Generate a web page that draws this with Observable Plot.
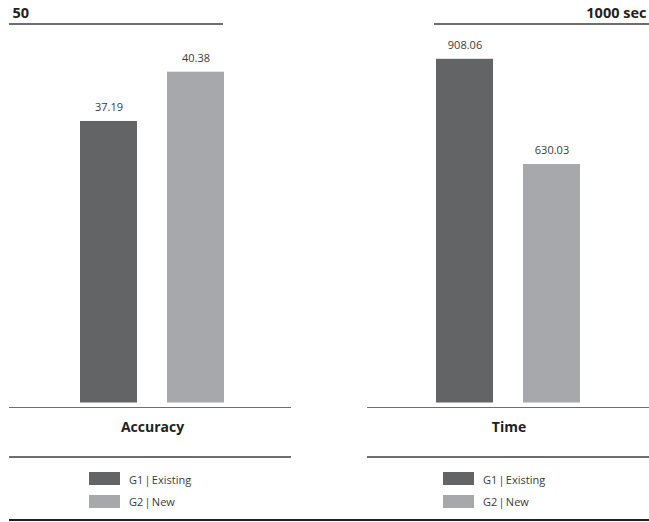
<!DOCTYPE html>
<html><head><meta charset="utf-8">
<script src="https://cdn.jsdelivr.net/npm/d3@7"></script>
<script src="https://cdn.jsdelivr.net/npm/@observablehq/plot@0.6"></script>
<style>
body{margin:0;background:#fff;}
#c{position:relative;width:649px;height:522px;font-family:"Open Sans",sans-serif;color:#231f20;overflow:hidden;}
#c svg{position:absolute;left:0;top:0;}
.ln{position:absolute;height:1.3px;background:#6d6e71;}
.ttl{position:absolute;width:200px;text-align:center;font-weight:bold;font-size:14px;line-height:14px;white-space:nowrap;}
.sw{position:absolute;width:31px;height:13px;}
.lt{position:absolute;font-size:11px;line-height:11px;white-space:nowrap;color:#3b3b3d;word-spacing:-1.6px;}
</style>
</head><body>
<div id="c"></div>
<script>
const series = ["G1 | Existing", "G2 | New"];
const colors = ["#636466", "#a7a8ab"];
const categories = ["Accuracy", "Time"];
const accuracyValues = [37.19, 43.7];
const accuracyLabels = ["37.19", "40.38"];
const timeValues = [908.06, 630.03];
const timeLabels = ["908.06", "630.03"];
const axisMax = [50, 1000];
const axisLabels = ["50", "1000 sec"];

const c = document.getElementById("c");

function panel(values, labels, xRange, yMax, axisLabel, anchorRight) {
  const data = series.map((s, i) => ({s, v: values[i], label: labels[i]}));
  return Plot.plot({
    width: 649, height: 410, margin: 0,
    style: {background: "transparent", fontFamily: "'Open Sans', sans-serif", overflow: "visible"},
    x: {domain: series, range: xRange, paddingInner: 0.34, paddingOuter: 0, axis: null},
    y: {domain: [0, yMax], range: [402.5, 24], axis: null},
    color: {domain: series, range: colors},
    marks: [
      Plot.barY(data, {x: "s", y: "v", fill: "s"}),
      Plot.text(data, {x: "s", y: "v", text: "label", dy: -14, fontSize: 11, fill: "#3b3b3d"}),
      Plot.text([yMax], {y: d => d, text: () => axisLabel, frameAnchor: anchorRight ? "right" : "left",
        textAnchor: anchorRight ? "end" : "start", dx: anchorRight ? -3 : 12, dy: -11,
        fontSize: 14.5, fontWeight: "bold", fill: "#231f20"})
    ]
  });
}

c.appendChild(panel(accuracyValues, accuracyLabels, [79, 224.5], axisMax[0], axisLabels[0], false));
c.appendChild(panel(timeValues, timeLabels, [435, 580.5], axisMax[1], axisLabels[1], true));

function line(x1, x2, y, h, col) {
  const d = document.createElement("div");
  d.className = "ln";
  d.style.left = x1 + "px"; d.style.width = (x2 - x1) + "px"; d.style.top = (y - h / 2) + "px";
  d.style.height = h + "px";
  if (col) d.style.background = col;
  c.appendChild(d);
}
line(9, 222.5, 24, 1.4);
line(434, 649, 24, 1.4);
line(9, 291, 407.5, 1.4);
line(367, 649, 407.5, 1.4);
line(9, 291, 457, 1.4);
line(367, 649, 457, 1.4);
line(9, 649, 519.5, 2, "#231f20");

const panels = [{center: 152.5, swX: 89}, {center: 509, swX: 443}];
categories.forEach((cat, k) => {
  const t = document.createElement("div");
  t.className = "ttl";
  t.textContent = cat;
  t.style.left = (panels[k].center - 100) + "px";
  t.style.top = "419.5px";
  c.appendChild(t);
  series.forEach((s, i) => {
    const sw = document.createElement("div");
    sw.className = "sw";
    sw.style.left = panels[k].swX + "px";
    sw.style.top = (472 + i * 22.5) + "px";
    sw.style.background = colors[i];
    c.appendChild(sw);
    const lt = document.createElement("div");
    lt.className = "lt";
    lt.textContent = s;
    lt.style.left = (panels[k].swX + 40) + "px";
    lt.style.top = (474.2 + i * 22) + "px";
    c.appendChild(lt);
  });
});
</script>
</body></html>
